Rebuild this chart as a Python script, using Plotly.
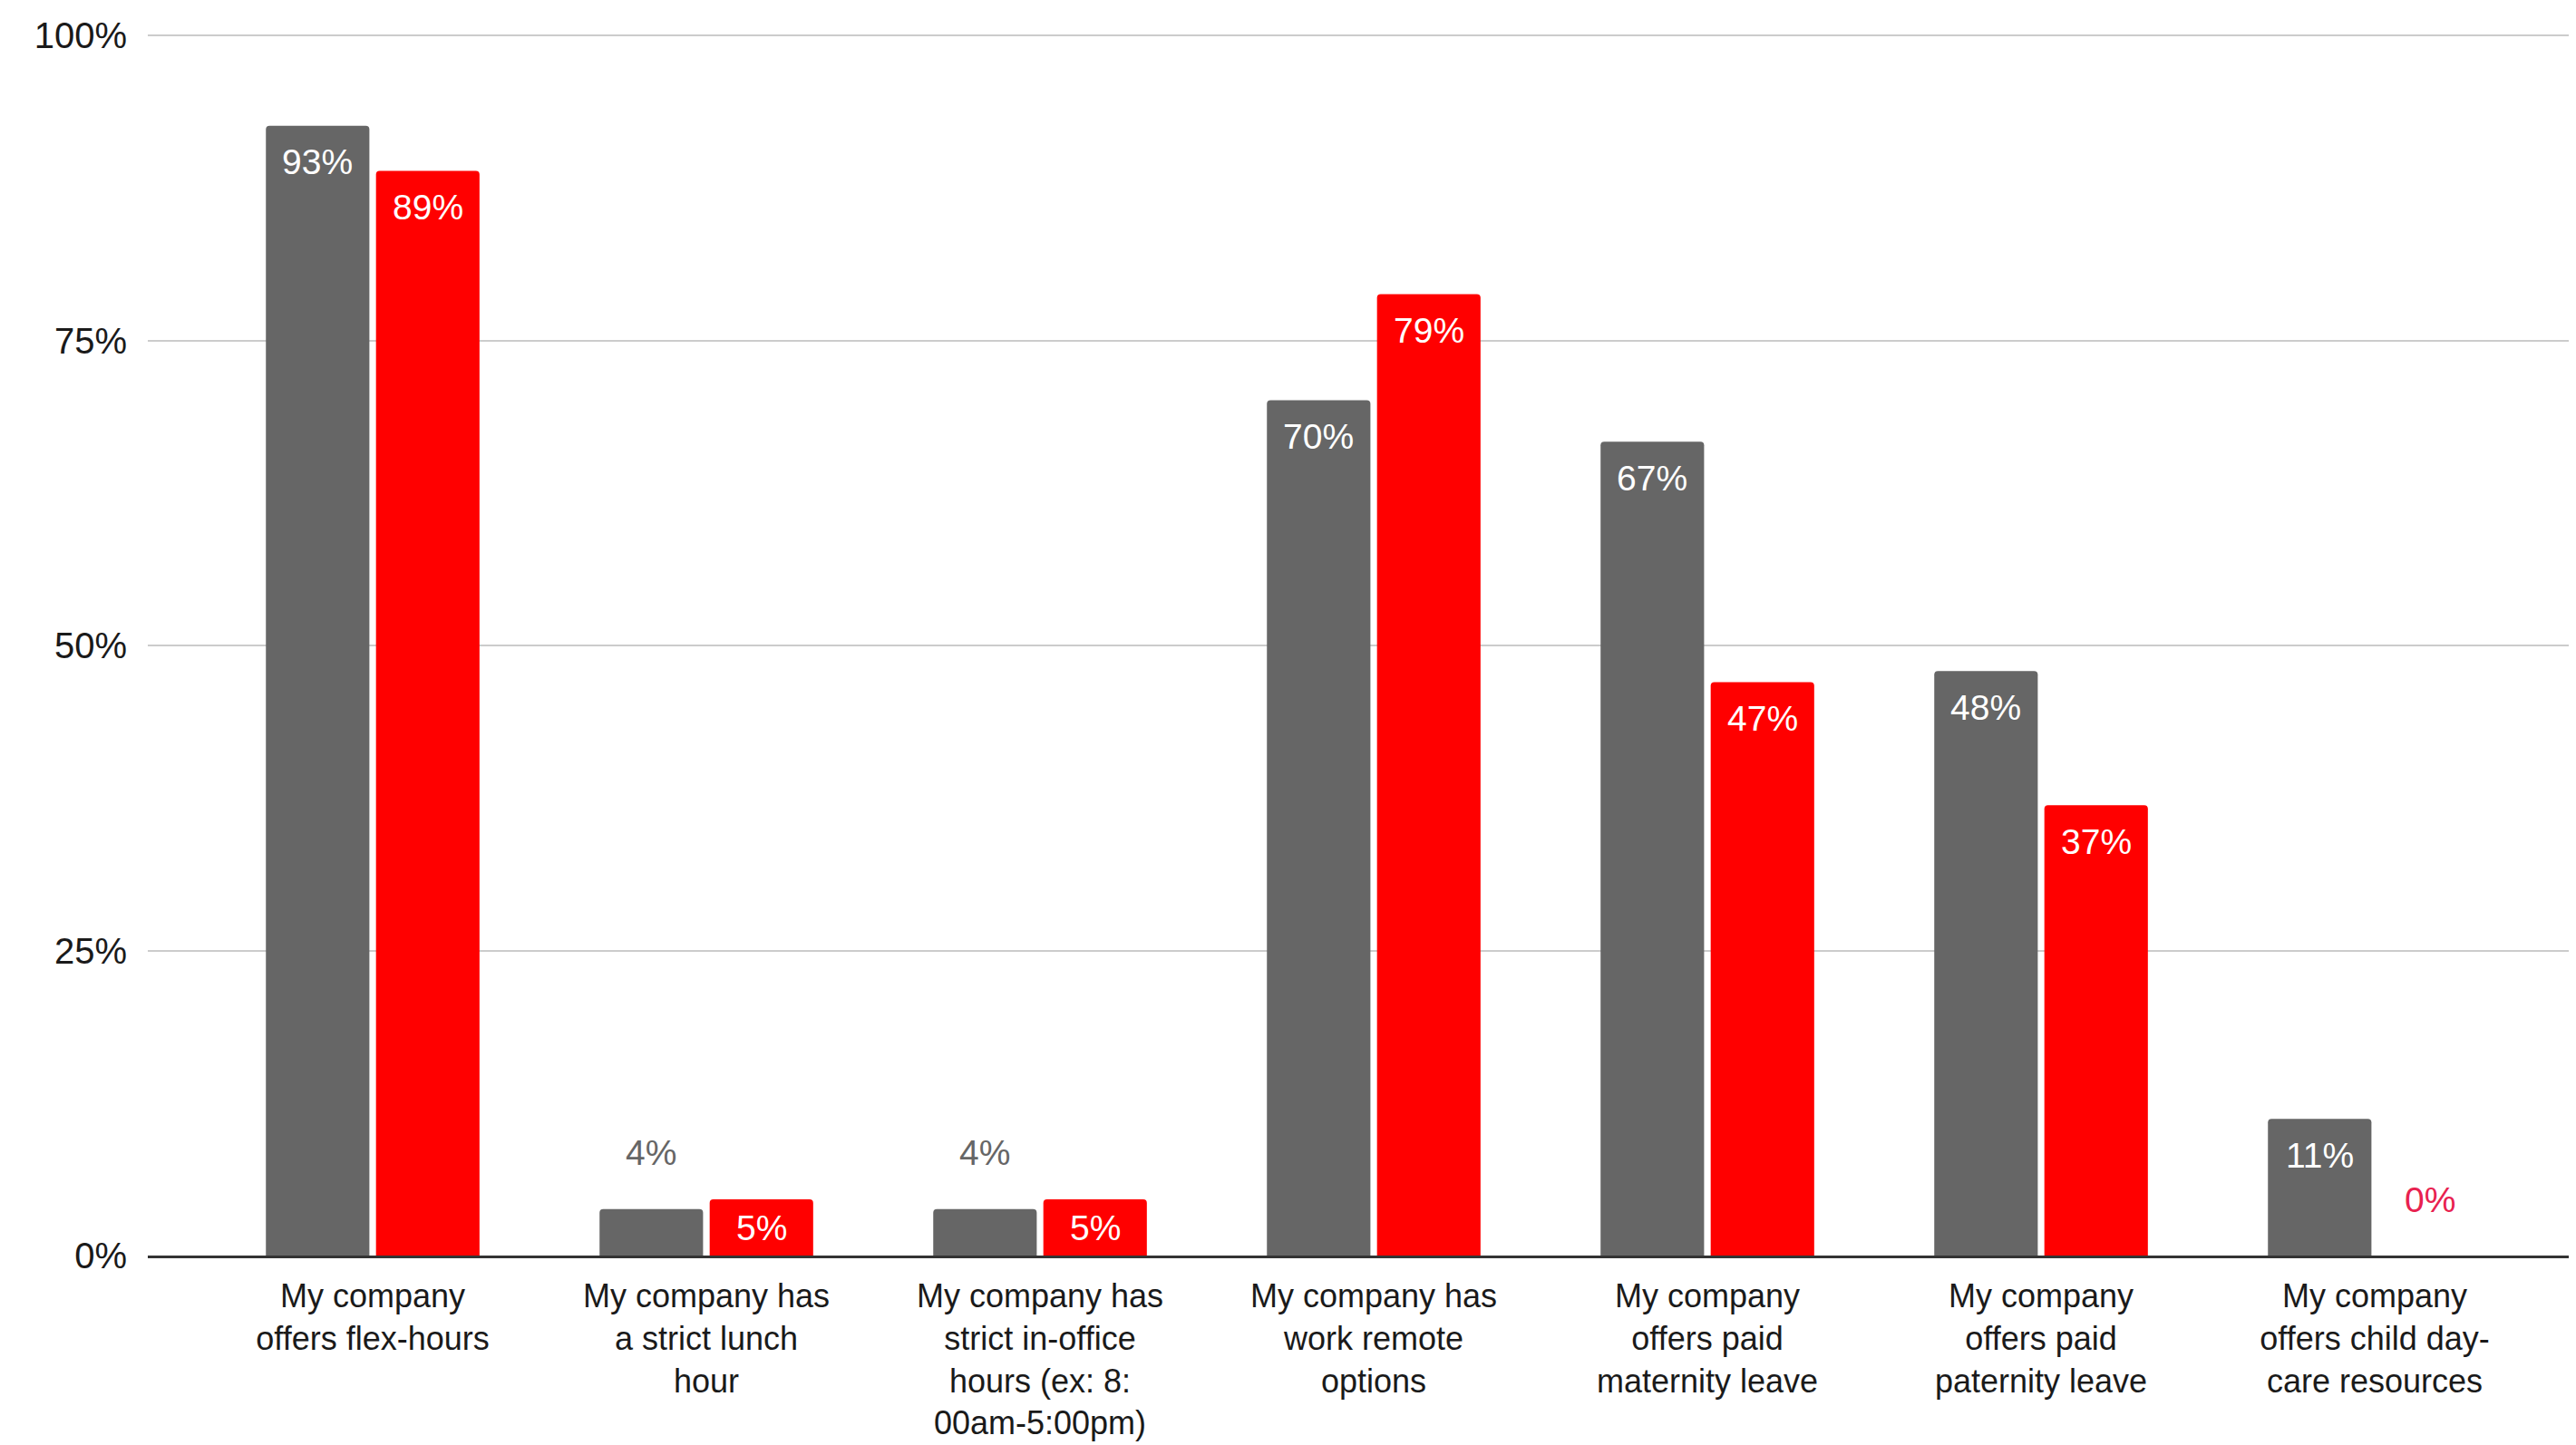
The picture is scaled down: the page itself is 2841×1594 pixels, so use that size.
import plotly.graph_objects as go

# ---- data ----
categories = [
    "flex-hours", "strict lunch", "strict in-office", "work remote",
    "maternity leave", "paternity leave", "child day-care",
]
tick_labels = [
    "My company<br>offers flex-hours",
    "My company has<br>a strict lunch<br>hour",
    "My company has<br>strict in-office<br>hours (ex: 8:<br>00am-5:00pm)",
    "My company has<br>work remote<br>options",
    "My company<br>offers paid<br>maternity leave",
    "My company<br>offers paid<br>paternity leave",
    "My company<br>offers child day-<br>care resources",
]
series_gray = [0.926, 0.038, 0.038, 0.701, 0.667, 0.479, 0.112]
series_red = [0.889, 0.046, 0.046, 0.788, 0.470, 0.369, 0.0]
y_ticks = [0, 0.25, 0.5, 0.75, 1.0]

# ---- style ----
BODY = 8                      # default page margin around the plot div
W, H = 2841 - 2 * BODY, 1594 - BODY
ML, MR, MT, MB = 155, 0, 27, 209
PLOT_W = W - ML - MR
PLOT_H = H - MT - MB
Y_MAX = 1.003
CAT_PX = 368
X_START = -0.674
X_RANGE = [X_START, X_START + PLOT_W / CAT_PX]
BARGAP, GROUPGAP = 0.34, 0.06
GRAY, RED = "#666666", "#ff0000"
FONT = "Liberation Sans, Arial, sans-serif"
LABEL_SIZE = 39

fig = go.Figure()
fig.add_trace(go.Bar(x=categories, y=series_gray, name="Series 1",
                     marker=dict(color=GRAY, line=dict(width=0)),
                     hoverinfo="x+y"))
fig.add_trace(go.Bar(x=categories, y=series_red, name="Series 2",
                     marker=dict(color=RED, line=dict(width=0)),
                     hoverinfo="x+y"))

# data labels (placed like the original: inside near top, or above short bars)
px_per_cat = PLOT_W / (X_RANGE[1] - X_RANGE[0])
px_per_unit = PLOT_H / Y_MAX
slot = (1 - BARGAP) / 2 * px_per_cat
annotations = []
for values, color, shift in ((series_gray, GRAY, -slot / 2), (series_red, RED, slot / 2)):
    for cat, v in zip(categories, values):
        h_px = v * px_per_unit
        txt = f"{round(v * 100):.0f}%"
        if h_px >= 55:
            ys = -min(40, h_px / 2)
            fc = "#ffffff"
        else:
            ys = 62
            fc = color if color == GRAY else "#e8214f"
        annotations.append(dict(
            x=cat, y=v, xref="x", yref="y", text=txt, showarrow=False,
            xanchor="center", yanchor="middle", xshift=shift, yshift=ys,
            font=dict(family=FONT, size=LABEL_SIZE, color=fc),
        ))

fig.update_layout(
    width=W, height=H,
    margin=dict(l=ML, r=MR, t=MT, b=MB, pad=0, autoexpand=False),
    paper_bgcolor="white", plot_bgcolor="white",
    barmode="group", bargap=BARGAP, bargroupgap=GROUPGAP,
    barcornerradius=4,
    showlegend=False,
    font=dict(family=FONT, color="#1a1a1a"),
    annotations=annotations,
    xaxis=dict(
        type="category", range=X_RANGE, automargin=False,
        tickmode="array", tickvals=categories, ticktext=tick_labels,
        tickfont=dict(family=FONT, size=36, color="#1a1a1a"),
        showgrid=False, zeroline=False,
        showline=True, linecolor="#333333", linewidth=2.5,
        ticks="", ticklabelstandoff=11,
    ),
    yaxis=dict(
        range=[0, Y_MAX], automargin=False,
        tickmode="array", tickvals=y_ticks, tickformat=".0%",
        tickfont=dict(family=FONT, size=40, color="#1a1a1a"),
        showgrid=True, gridcolor="#cccccc", gridwidth=1.5,
        zeroline=False, showline=False, ticks="", ticklabelstandoff=22,
    ),
)

fig.write_html("out.html")
